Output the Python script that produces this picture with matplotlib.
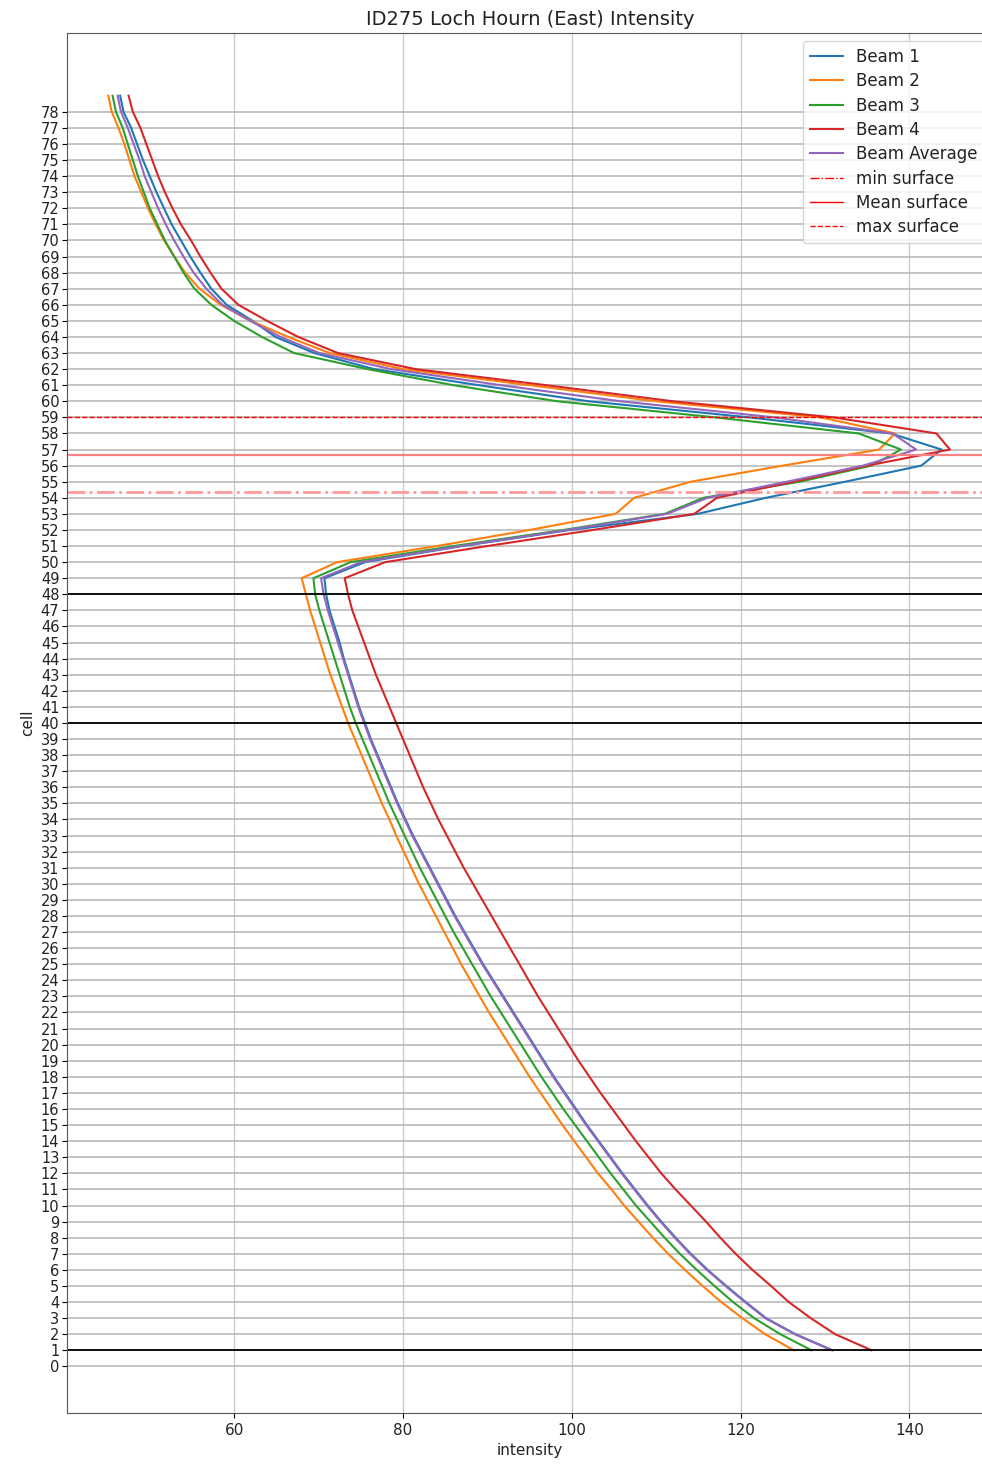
import matplotlib
matplotlib.use("Agg")
import matplotlib.pyplot as plt
from matplotlib.lines import Line2D

cells = list(range(1, 80))

beam1 = [130.9, 126.5, 123.0, 120.6, 118.3, 116.1, 114.1, 112.3, 110.6, 109.0,
         107.5, 106.0, 104.6, 103.2, 101.8, 100.5, 99.2, 97.9, 96.7, 95.5,
         94.3, 93.1, 91.9, 90.7, 89.5, 88.4, 87.3, 86.2, 85.2, 84.2,
         83.2, 82.2, 81.2, 80.3, 79.4, 78.6, 77.8, 77.0, 76.2, 75.5,
         74.8, 74.2, 73.6, 73.0, 72.5, 71.9, 71.3, 70.9, 70.7,
         75.5, 87.0, 99.8, 114.9, 123.0, 132.4, 141.4, 143.8, 137.8, 121.0,
         102.0, 89.0, 76.6, 69.5, 64.9, 62.2, 59.1, 57.3, 56.0, 54.8,
         53.7, 52.6, 51.7, 50.8, 50.0, 49.2, 48.5, 47.8, 46.9, 46.5]

beam2 = [126.3, 122.9, 120.2, 117.7, 115.5, 113.4, 111.4, 109.6, 107.9, 106.2,
         104.7, 103.1, 101.7, 100.3, 98.9, 97.6, 96.3, 95.0, 93.8, 92.6,
         91.4, 90.2, 89.1, 88.0, 86.9, 85.9, 84.9, 83.9, 82.9, 81.9,
         81.0, 80.1, 79.2, 78.4, 77.5, 76.7, 75.9, 75.1, 74.3, 73.5,
         72.8, 72.1, 71.4, 70.8, 70.2, 69.6, 69.0, 68.5, 68.0,
         72.2, 84.0, 95.0, 105.2, 107.4, 114.1, 125.0, 136.4, 138.3, 129.5,
         110.0, 95.0, 80.0, 71.3, 66.4, 62.0, 58.4, 55.9, 54.2, 52.9,
         51.7, 50.7, 49.8, 49.0, 48.2, 47.6, 47.0, 46.3, 45.5, 45.1]

beam3 = [128.4, 124.7, 121.6, 119.1, 116.9, 114.8, 112.8, 111.0, 109.3, 107.6,
         106.1, 104.6, 103.2, 101.8, 100.4, 99.0, 97.7, 96.4, 95.2, 94.0,
         92.8, 91.6, 90.4, 89.3, 88.2, 87.1, 86.0, 85.0, 84.0, 83.0,
         82.0, 81.1, 80.2, 79.3, 78.4, 77.6, 76.8, 76.0, 75.2, 74.4,
         73.7, 73.1, 72.5, 71.9, 71.3, 70.7, 70.1, 69.6, 69.4,
         73.8, 86.0, 99.0, 111.0, 115.6, 127.0, 135.5, 139.0, 134.0, 117.0,
         98.3, 86.0, 75.8, 67.1, 63.3, 60.0, 57.3, 55.3, 54.0, 52.9,
         51.8, 50.9, 50.0, 49.3, 48.6, 48.0, 47.4, 46.8, 46.0, 45.6]

beam4 = [135.5, 131.2, 128.3, 125.7, 123.6, 121.4, 119.4, 117.6, 115.9, 114.1,
         112.3, 110.6, 109.1, 107.6, 106.2, 104.8, 103.4, 102.1, 100.8, 99.6,
         98.4, 97.2, 96.0, 94.9, 93.8, 92.7, 91.6, 90.5, 89.4, 88.3,
         87.2, 86.2, 85.2, 84.2, 83.3, 82.4, 81.6, 80.8, 80.0, 79.2,
         78.4, 77.6, 76.8, 76.1, 75.4, 74.7, 74.0, 73.5, 73.1,
         77.9, 90.0, 102.5, 114.5, 117.2, 126.3, 135.0, 144.8, 143.2, 131.0,
         112.0, 97.0, 81.5, 72.3, 67.6, 63.9, 60.5, 58.5, 57.2, 56.0,
         54.9, 53.7, 52.7, 51.8, 51.0, 50.3, 49.6, 48.9, 48.0, 47.5]

beam_avg = [130.8, 126.4, 122.9, 120.5, 118.2, 116.0, 114.0, 112.2, 110.5, 108.9,
            107.4, 105.9, 104.5, 103.1, 101.7, 100.4, 99.1, 97.8, 96.6, 95.4,
            94.2, 93.0, 91.8, 90.6, 89.4, 88.3, 87.2, 86.1, 85.1, 84.1,
            83.1, 82.1, 81.1, 80.2, 79.3, 78.5, 77.7, 76.9, 76.1, 75.4,
            74.7, 74.1, 73.5, 72.9, 72.3, 71.7, 71.1, 70.6, 70.3,
            75.0, 86.8, 99.5, 111.3, 116.1, 125.5, 134.5, 140.8, 138.0, 124.0,
            105.8, 91.6, 78.6, 70.1, 65.5, 61.9, 58.6, 56.7, 55.2, 54.0,
            52.9, 51.9, 51.0, 50.2, 49.4, 48.8, 48.1, 47.4, 46.6, 46.2]

series_labels = ["Beam 1", "Beam 2", "Beam 3", "Beam 4", "Beam Average"]
series_colors = ["#1f77b4", "#ff7f0e", "#2ca02c", "#d62728", "#9467bd"]

min_surface = 54.38
mean_surface = 56.69
max_surface = 59.0
black_cells = [48, 40, 1]
ytick_cells = list(range(0, 79))

fig = plt.figure(figsize=(9.82, 14.65), dpi=100)
ax = fig.add_axes([0.0682, 0.0355, 0.943, 0.942])

ax.set_axisbelow(True)
ax.grid(True, axis="x", color="#cccccc", linewidth=1.0)
ax.grid(True, axis="y", color="#b4b4b4", linewidth=1.1)

for vals, lab, col in zip([beam1, beam2, beam3, beam4, beam_avg], series_labels, series_colors):
    ax.plot(vals, cells, color=col, linewidth=1.5, label=lab)

ax.axhline(min_surface, color="#ff9999", linestyle="-.", linewidth=2.0)
ax.axhline(mean_surface, color="#ff8080", linestyle="-", linewidth=1.6)
ax.axhline(max_surface, color="red", linestyle="--", linewidth=1.0)
for c in black_cells:
    ax.axhline(c, color="black", linewidth=1.3)

ax.set_xlim(40.2, 149.9)
ax.set_ylim(-2.9, 82.9)
ax.set_yticks(ytick_cells)
ax.tick_params(axis="y", labelsize=10.5, pad=2, length=3.5, labelcolor="#222222")
ax.tick_params(axis="x", labelsize=11, length=3.5, labelcolor="#222222")

for s in ax.spines.values():
    s.set_color("#555555")

ax.set_title("ID275 Loch Hourn (East) Intensity", fontsize=14, color="#222222")
ax.set_xlabel("intensity", fontsize=11, color="#222222")
ax.set_ylabel("cell", fontsize=11, color="#222222")

handles = [Line2D([], [], color=c, linewidth=1.5) for c in series_colors]
handles += [Line2D([], [], color="red", linestyle="-.", linewidth=1.0),
            Line2D([], [], color="red", linestyle="-", linewidth=1.0),
            Line2D([], [], color="red", linestyle="--", linewidth=1.0)]
labels = series_labels + ["min surface", "Mean surface", "max surface"]
leg = ax.legend(handles, labels, loc="upper right", fontsize=12, framealpha=0.8,
                labelspacing=0.38)
for t in leg.get_texts():
    t.set_color("#222222")

fig.savefig("out.png", dpi=100)
